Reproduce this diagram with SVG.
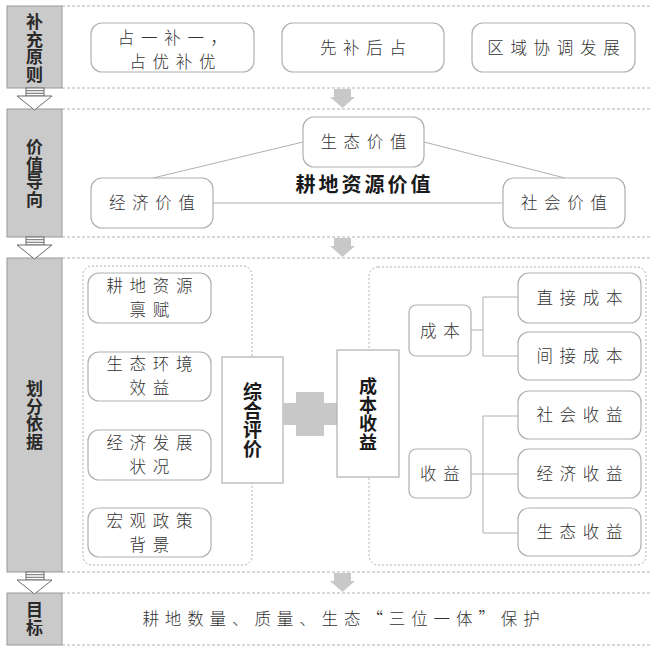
<svg xmlns="http://www.w3.org/2000/svg" width="651" height="648" viewBox="0 0 651 648">
<style>
.bar{fill:#cacaca;stroke:#9a9a9a;stroke-width:1}
.div{stroke:#a0a0a0;stroke-width:0.8;stroke-dasharray:3 2;fill:none}
.box{fill:#fff;stroke:#b0b0b0;stroke-width:1.2}
.sq{fill:#fff;stroke:#b0b0b0;stroke-width:1.2}
.cont{fill:none;stroke:#b0b0b0;stroke-width:1;stroke-dasharray:2 2}
.t{font-family:"Noto Sans CJK SC","Noto Sans",sans-serif;font-size:16.5px;font-weight:300;fill:#333;text-anchor:middle;letter-spacing:6.7px}
.lb{font-family:"Noto Sans CJK SC","Noto Sans",sans-serif;font-size:17px;font-weight:bold;fill:#2a2a2a;text-anchor:middle;writing-mode:vertical-rl;letter-spacing:0.5px}
.vb{font-family:"Noto Sans CJK SC","Noto Sans",sans-serif;font-size:19px;font-weight:bold;fill:#1a1a1a;text-anchor:middle}
.vv{writing-mode:vertical-rl}
.ln{stroke:#b0b0b0;stroke-width:1;fill:none}
.garrow{fill:#c8c8c8}
.harrow{fill:#fff;stroke:#6a6a6a;stroke-width:1}
</style>
<defs>
<g id="hollow">
<rect class="harrow" x="26" y="88" width="18" height="8"/>
<line x1="26" y1="90.7" x2="44" y2="90.7" stroke="#6a6a6a" stroke-width="1"/>
<line x1="26" y1="93.3" x2="44" y2="93.3" stroke="#6a6a6a" stroke-width="1"/>
<polygon class="harrow" points="17,96 52,96 34.5,110"/>
</g>
<polygon id="gdown" class="garrow" points="334,89 351,89 351,97 355,97 342.5,108 330,97 334,97"/>
</defs>
<rect width="651" height="648" fill="#fff"/>

<g id="rows">
<line class="div" x1="62" y1="6" x2="651" y2="6"/>
<line class="div" x1="62" y1="88" x2="651" y2="88"/>
<line class="div" x1="62" y1="109" x2="651" y2="109"/>
<line class="div" x1="62" y1="237" x2="651" y2="237"/>
<line class="div" x1="62" y1="258" x2="651" y2="258"/>
<line class="div" x1="62" y1="572" x2="651" y2="572"/>
<line class="div" x1="62" y1="593" x2="651" y2="593"/>
<line class="div" x1="62" y1="645" x2="651" y2="645"/>
</g>

<g id="label-principle">
<rect class="bar" x="7" y="6" width="55" height="82"/>
<text class="lb" x="34.5" y="48.5">补充原则</text>
</g>
<g id="label-value">
<rect class="bar" x="7" y="109" width="55" height="128"/>
<text class="lb" x="34.5" y="173.5">价值导向</text>
</g>
<g id="label-basis">
<rect class="bar" x="7" y="258" width="55" height="314"/>
<text class="lb" x="34.5" y="415.5">划分依据</text>
</g>
<g id="label-goal">
<rect class="bar" x="7" y="593" width="55" height="52"/>
<text class="lb" x="34.5" y="619.5" style="letter-spacing:1.5px">目标</text>
</g>

<g id="left-arrows">
<use href="#hollow"/>
<use href="#hollow" transform="translate(0,149)"/>
<use href="#hollow" transform="translate(0,484)"/>
</g>
<g id="mid-arrows">
<use href="#gdown"/>
<use href="#gdown" transform="translate(0,149)"/>
<use href="#gdown" transform="translate(0,484)"/>
</g>

<g id="p1">
<rect class="box" x="91" y="23" width="163" height="49" rx="11"/>
<text class="t"><tspan x="175.8" y="43.6">占一补一，</tspan><tspan x="175.8" y="67.6">占优补优</tspan></text>
</g>
<g id="p2">
<rect class="box" x="282" y="23" width="162" height="49" rx="11"/>
<text class="t" x="366.3" y="53.8">先补后占</text>
</g>
<g id="p3">
<rect class="box" x="472" y="23" width="163" height="49" rx="11"/>
<text class="t" x="556.8" y="53.8">区域协调发展</text>
</g>

<g id="connectors">
<line class="ln" x1="153" y1="178" x2="303" y2="142"/>
<line class="ln" x1="424" y1="142" x2="565" y2="178"/>
<line class="ln" x1="213" y1="203" x2="503" y2="203"/>
<polyline class="ln" points="471,330 483,330"/>
<polyline class="ln" points="518,297 483,297 483,356 518,356"/>
<polyline class="ln" points="471,474 518,474"/>
<polyline class="ln" points="518,416 483,416 483,533 518,533"/>
</g>

<g id="v-eco">
<rect class="box" x="303" y="117" width="121" height="50" rx="11"/>
<text class="t" x="366.8" y="148.3">生态价值</text>
</g>
<g id="v-econ">
<rect class="box" x="91" y="178" width="122" height="50" rx="11"/>
<text class="t" x="155.3" y="209.3">经济价值</text>
</g>
<g id="v-soc">
<rect class="box" x="503" y="178" width="122" height="50" rx="11"/>
<text class="t" x="567.3" y="209.3">社会价值</text>
</g>
<g id="v-title">
<text class="vb" x="364.5" y="191.5" style="font-size:20px;letter-spacing:3px">耕地资源价值</text>
</g>

<g id="left-container">
<rect class="cont" x="83" y="266" width="169" height="299" rx="9"/>
</g>
<g id="f1">
<rect class="box" x="88" y="273" width="123" height="50" rx="11"/>
<text class="t"><tspan x="152.8" y="291.8">耕地资源</tspan><tspan x="152.8" y="315.8">禀赋</tspan></text>
</g>
<g id="f2">
<rect class="box" x="88" y="352" width="123" height="49" rx="11"/>
<text class="t"><tspan x="152.8" y="370.3">生态环境</tspan><tspan x="152.8" y="394.3">效益</tspan></text>
</g>
<g id="f3">
<rect class="box" x="88" y="430" width="123" height="50" rx="11"/>
<text class="t"><tspan x="152.8" y="449.3">经济发展</tspan><tspan x="152.8" y="473.3">状况</tspan></text>
</g>
<g id="f4">
<rect class="box" x="88" y="508" width="123" height="49" rx="11"/>
<text class="t"><tspan x="152.8" y="526.8">宏观政策</tspan><tspan x="152.8" y="550.8">背景</tspan></text>
</g>
<g id="comprehensive">
<rect class="sq" x="222" y="357" width="61" height="126"/>
<text class="vb vv" x="252.5" y="420.5">综合评价</text>
</g>
<g id="plus">
<rect class="garrow" x="283" y="403" width="54" height="22"/>
<rect class="garrow" x="296" y="392" width="28" height="44"/>
</g>
<g id="right-container">
<rect class="cont" x="369" y="267" width="277" height="298" rx="9"/>
</g>
<g id="costbenefit">
<rect class="sq" x="337" y="350" width="62" height="127"/>
<text class="vb vv" x="368" y="414.5" style="font-size:18px;letter-spacing:0.5px">成本收益</text>
</g>
<g id="cost">
<rect class="box" x="409" y="305" width="62" height="51" rx="7"/>
<text class="t" x="443.3" y="336.8">成本</text>
</g>
<g id="benefit">
<rect class="box" x="409" y="449" width="62" height="49" rx="7"/>
<text class="t" x="443.3" y="479.8">收益</text>
</g>
<g id="c1">
<rect class="box" x="518" y="273" width="123" height="50" rx="11"/>
<text class="t" x="582.8" y="304.3">直接成本</text>
</g>
<g id="c2">
<rect class="box" x="518" y="332" width="123" height="48" rx="11"/>
<text class="t" x="582.8" y="362.3">间接成本</text>
</g>
<g id="b1">
<rect class="box" x="518" y="391" width="123" height="48" rx="11"/>
<text class="t" x="582.8" y="421.3">社会收益</text>
</g>
<g id="b2">
<rect class="box" x="518" y="449" width="123" height="49" rx="11"/>
<text class="t" x="582.8" y="479.8">经济收益</text>
</g>
<g id="b3">
<rect class="box" x="518" y="508" width="123" height="48" rx="11"/>
<text class="t" x="582.8" y="538.3">生态收益</text>
</g>

<g id="goal">
<text class="t" x="344" y="625.3" style="letter-spacing:5.9px">耕地数量、质量、生态“三位一体”保护</text>
</g>
</svg>
